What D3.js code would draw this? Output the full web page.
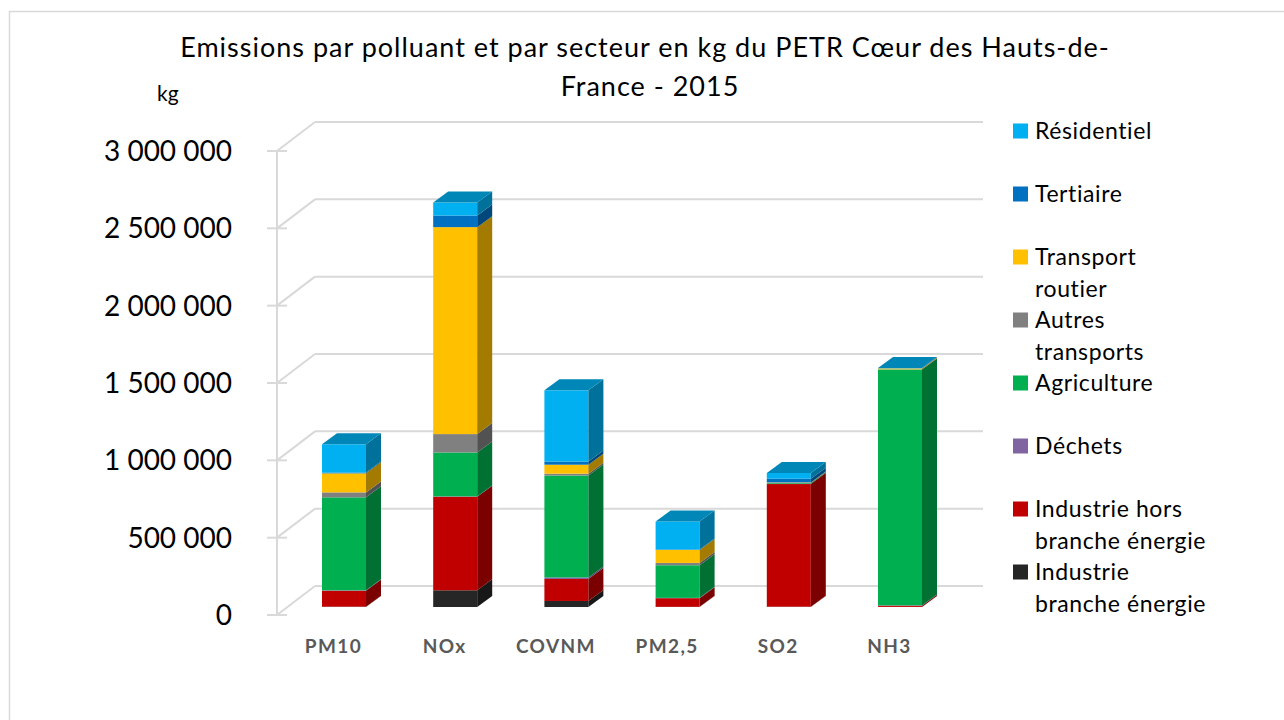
<!DOCTYPE html>
<html>
<head>
<meta charset="utf-8">
<script src="https://cdn.jsdelivr.net/npm/d3@7"></script>
<style>
  body { margin: 0; background: #fff; }
  text { font-family: Lato, "Liberation Sans", sans-serif; }
</style>
</head>
<body>
<div id="graphe"></div>
<script>
// données (kg)
const polluants = ["PM10", "NOx", "COVNM", "PM2,5", "SO2", "NH3"];
const secteurs = ["Industrie branche énergie", "Industrie hors branche énergie", "Déchets", "Agriculture",
                  "Autres transports", "Transport routier", "Tertiaire", "Résidentiel"];
const couleurs = ["#262626", "#C00000", "#8064A2", "#00B050", "#808080", "#FFC000", "#0070C0", "#00B0F0"];

const industrieEnergie  = [2000, 108000, 39000, 1000, 2000, 500];
const industrieHors     = [103000, 605000, 142000, 56000, 793000, 8000];
const dechets           = [3000, 2000, 10000, 2000, 500, 2000];
const agriculture       = [601000, 284000, 659000, 211000, 5000, 1525000];
const autresTransports  = [32000, 119000, 12000, 15000, 3000, 1000];
const transportRoutier  = [123000, 1338000, 58000, 84000, 2000, 6000];
const tertiaire         = [5000, 75000, 20000, 3000, 24000, 1000];
const residentiel       = [183000, 84000, 461000, 181000, 37000, 2000];

const series = [industrieEnergie, industrieHors, dechets, agriculture, autresTransports, transportRoutier, tertiaire, residentiel];
const ticks = [0, 500000, 1000000, 1500000, 2000000, 2500000, 3000000];

// légende de haut en bas, avec le découpage des lignes
const legende = [
  [7, ["Résidentiel"]],
  [6, ["Tertiaire"]],
  [5, ["Transport", "routier"]],
  [4, ["Autres", "transports"]],
  [3, ["Agriculture"]],
  [2, ["Déchets"]],
  [1, ["Industrie hors", "branche énergie"]],
  [0, ["Industrie", "branche énergie"]]
];

const largeur = 1284, hauteur = 720;
const profX = 38, profY = 29;      // profondeur du mur du fond
const barX = 15, barY = 11;        // profondeur des barres
const decalBarre = 8;              // les barres sont un peu en retrait du plan avant

const svg = d3.select("#graphe").append("svg").attr("width", largeur).attr("height", hauteur);

// cadre
svg.append("rect").attr("x", 9.5).attr("y", 11.5).attr("width", 1300).attr("height", 740)
  .attr("fill", "none").attr("stroke", "#d9d9d9").attr("stroke-width", 1.5);

const y = d3.scaleLinear().domain([0, 3000000]).range([615, 151]);
const x = d3.scalePoint().domain(polluants).range([288.4, 955.6]).padding(0.5);
const largeurBarre = 44;

// grille : mur du fond + diagonales
const grille = svg.append("g").attr("stroke", "#d9d9d9").attr("stroke-width", 2).attr("fill", "none");
ticks.forEach(t => {
  grille.append("line").attr("x1", 277 + profX).attr("x2", 983)
    .attr("y1", y(t) - profY).attr("y2", y(t) - profY);
  grille.append("line").attr("x1", 277).attr("x2", 277 + profX)
    .attr("y1", y(t)).attr("y2", y(t) - profY);
  grille.append("line").attr("x1", 267).attr("x2", 287).attr("y1", y(t)).attr("y2", y(t));
});
grille.append("line").attr("x1", 277).attr("x2", 277).attr("y1", y(3000000)).attr("y2", y(0));

// étiquettes de l'axe vertical
const fmt = v => d3.format(",")(v).replace(/,/g, " ");
svg.append("g").selectAll("text").data(ticks).join("text")
  .attr("x", 232).attr("y", d => y(d) + 10)
  .attr("text-anchor", "end").attr("font-size", 28).attr("fill", "#000")
  .text(fmt);

svg.append("text").attr("x", 157).attr("y", 101).attr("font-size", 21).attr("fill", "#000").text("kg");

// barres empilées en 3D
const empile = polluants.map((p, i) => {
  let cumul = 0;
  return series.map((s, k) => {
    const bas = cumul; cumul += s[i];
    return { polluant: p, k: k, bas: bas, haut: cumul };
  });
});

const barres = svg.append("g");
empile.forEach(pile => {
  pile.forEach(seg => {
    const x0 = x(seg.polluant) - largeurBarre / 2, x1 = x0 + largeurBarre;
    const yb = y(seg.bas) - decalBarre, yh = y(seg.haut) - decalBarre;
    if (yb - yh <= 0) return;
    const c = couleurs[seg.k];
    barres.append("rect").attr("x", x0).attr("y", yh).attr("width", largeurBarre).attr("height", yb - yh)
      .attr("fill", c);
    barres.append("path")
      .attr("d", `M${x1},${yb} L${x1 + barX},${yb - barY} L${x1 + barX},${yh - barY} L${x1},${yh} Z`)
      .attr("fill", d3.color(c).darker(1.25));
  });
  const dessus = pile[pile.length - 1];
  const x0 = x(dessus.polluant) - largeurBarre / 2, x1 = x0 + largeurBarre;
  const yh = y(dessus.haut) - decalBarre;
  barres.append("path")
    .attr("d", `M${x0},${yh} L${x1},${yh} L${x1 + barX},${yh - barY} L${x0 + barX},${yh - barY} Z`)
    .attr("fill", d3.color(couleurs[7]).darker(0.75));
});

// étiquettes des catégories
svg.append("g").selectAll("text").data(polluants).join("text")
  .attr("x", d => x(d) - 10.5).attr("y", 653)
  .attr("text-anchor", "middle").attr("font-size", 19).attr("letter-spacing", 1.4)
  .attr("font-weight", "bold").attr("fill", "#595959")
  .text(d => d);

// titre
const titre = svg.append("text").attr("text-anchor", "middle").attr("font-size", 27)
  .attr("letter-spacing", 1).attr("fill", "#000");
titre.append("tspan").attr("x", 645).attr("y", 57).text("Emissions par polluant et par secteur en kg du PETR Cœur des Hauts-de-");
titre.append("tspan").attr("x", 650).attr("y", 96).text("France - 2015");

// légende
const leg = svg.append("g");
legende.forEach((l, i) => {
  const yc = 131 + i * 63;
  leg.append("rect").attr("x", 1013).attr("y", yc - 7.5).attr("width", 15).attr("height", 15)
    .attr("fill", couleurs[l[0]]);
  l[1].forEach((ligne, j) => {
    leg.append("text").attr("x", 1035).attr("y", yc + 8 + j * 32)
      .attr("font-size", 23).attr("letter-spacing", 0.6).attr("fill", "#000").text(ligne);
  });
});
</script>
</body>
</html>
